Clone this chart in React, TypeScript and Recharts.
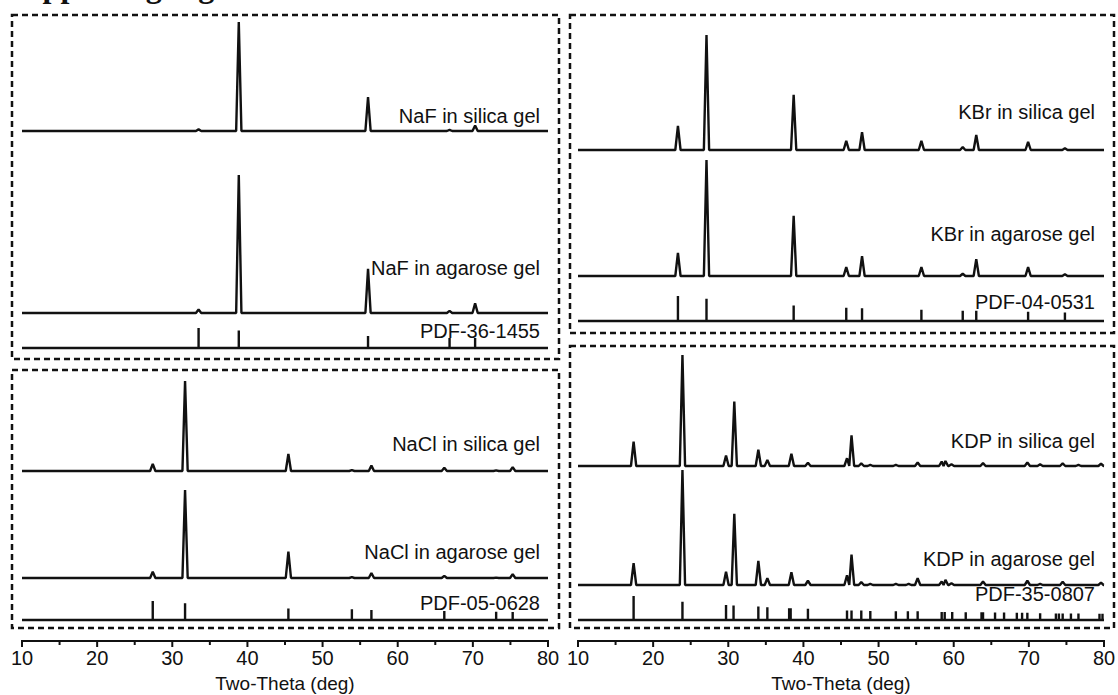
import { LineChart, Line, XAxis, YAxis } from 'recharts';

type Peak = [number, number];

// 2-theta (deg) and height (% of the strongest line)
const naFSilica: Peak[] = [[33.5, 1.5], [38.85, 100], [56.05, 31], [66.9, 1], [70.3, 5]];
const naFAgarose: Peak[] = [[33.5, 2.5], [38.85, 100], [56.05, 32], [66.9, 1.5], [70.3, 7]];
const naFRef: Peak[] = [[33.5, 100], [38.85, 87], [56.05, 60], [66.9, 50], [70.3, 50]];

const naClSilica: Peak[] = [[27.4, 8], [31.7, 100], [45.45, 19], [53.9, 1], [56.5, 6], [66.2, 3.5], [73.1, 0.7], [75.3, 4.3]];
const naClAgarose: Peak[] = [[27.4, 7], [31.7, 100], [45.45, 30], [53.9, 1], [56.5, 5.7], [66.2, 2.5], [73.1, 0.5], [75.3, 4.5]];
const naClRef: Peak[] = [[27.4, 100], [31.7, 88], [45.45, 61], [53.9, 56], [56.5, 53], [66.2, 47], [73.1, 44], [75.3, 42]];

const kBrSilica: Peak[] = [[23.3, 21], [27.1, 100], [38.7, 48], [45.7, 8], [47.8, 15.5], [55.7, 8], [61.2, 2.5], [63.0, 13], [69.9, 7], [74.8, 1.5]];
const kBrAgarose: Peak[] = [[23.3, 20], [27.1, 100], [38.7, 52], [45.7, 7.7], [47.8, 17], [55.7, 7.7], [61.2, 2], [63.0, 14.5], [69.9, 7.7], [74.8, 1.5]];
const kBrRef: Peak[] = [[23.3, 100], [27.1, 89], [38.7, 62], [45.7, 53], [47.8, 51], [55.7, 45], [61.2, 41], [63.0, 41], [69.9, 37], [74.8, 34]];

const kdpSilica: Peak[] = [
  [17.4, 22], [23.9, 100], [29.7, 9.4], [30.8, 58], [34.0, 14.6], [35.2, 5.5], [38.4, 11], [40.6, 3],
  [45.8, 7], [46.4, 27.6], [47.7, 2.3], [48.9, 1], [52.3, 1], [55.2, 3.2], [58.4, 4], [58.9, 4.5],
  [59.7, 1.5], [63.9, 2.6], [69.8, 3.2], [71.5, 1.5], [74.5, 2.3], [76.6, 1], [79.6, 2],
];
const kdpAgarose: Peak[] = [
  [17.4, 19], [23.9, 100], [29.7, 11.5], [30.8, 62], [34.0, 21], [35.2, 6], [38.4, 11], [40.6, 3.7],
  [45.8, 8.5], [46.4, 26.5], [47.7, 2.5], [48.9, 1], [52.3, 1], [54.0, 1], [55.2, 6], [58.4, 3],
  [58.9, 4.5], [59.7, 1.5], [63.9, 3], [69.8, 3.7], [71.5, 1], [74.5, 2.8], [79.6, 2],
];
const kdpRef: Peak[] = [
  [17.4, 100], [23.9, 76], [29.7, 63], [30.7, 60], [34.0, 56], [35.2, 53], [38.1, 49], [38.3, 49],
  [40.6, 47], [45.8, 40], [46.4, 40], [47.7, 40], [48.9, 37], [52.3, 36], [53.9, 36], [55.2, 36],
  [58.4, 33], [58.8, 33], [59.8, 33], [61.6, 32], [63.7, 32], [63.9, 32], [65.5, 31], [66.7, 31],
  [68.4, 30], [69.1, 30], [69.8, 30], [71.5, 28], [73.6, 27], [74.0, 27], [74.5, 27], [75.6, 27],
  [76.6, 27], [79.4, 26], [79.8, 26],
];

const xTicks = [10, 15, 20, 25, 30, 35, 40, 45, 50, 55, 60, 65, 70, 75, 80];

const FONT = '"Liberation Sans", Arial, sans-serif';
const INK = '#111';
const PAD = 3;
const PLOT_W = 526;
const LEFT_X = 22;
const RIGHT_X = 578;

// turns a peak list into a polyline: narrow triangles on a flat baseline (halfWidth 0 = sticks)
const toProfile = (peaks: Peak[], halfWidth: number) => {
  const pts: { x: number; y: number }[] = [{ x: 10, y: 0 }];
  peaks.forEach(([p, h], i) => {
    const prev = i > 0 ? peaks[i - 1][0] : -Infinity;
    const next = i < peaks.length - 1 ? peaks[i + 1][0] : Infinity;
    pts.push({ x: Math.max(p - halfWidth, (prev + p) / 2), y: 0 });
    pts.push({ x: p, y: h });
    pts.push({ x: Math.min(p + halfWidth, (p + next) / 2), y: 0 });
  });
  pts.push({ x: 80, y: 0 });
  return pts;
};

interface TraceProps {
  peaks: Peak[];
  left: number;
  top: number;
  base: number;
  sticks?: boolean;
}

const Trace = ({ peaks, left, top, base, sticks }: TraceProps) => (
  <div style={{ position: 'absolute', left: left - PAD, top: top - PAD }}>
    <LineChart
      width={PLOT_W + 2 * PAD}
      height={base - top + 2 * PAD}
      data={toProfile(peaks, sticks ? 0 : 0.35)}
      margin={{ top: PAD, right: PAD, bottom: PAD, left: PAD }}
    >
      <XAxis dataKey="x" type="number" domain={[10, 80]} hide />
      <YAxis type="number" domain={[0, 100]} hide />
      <Line
        dataKey="y"
        type="linear"
        stroke={INK}
        strokeWidth={2.4}
        strokeLinejoin="bevel"
        dot={false}
        activeDot={false}
        isAnimationActive={false}
      />
    </LineChart>
  </div>
);

const AxisTick = (props: any) => {
  const { x, y, payload } = props;
  const major = payload.value % 10 === 0;
  return (
    <g>
      <line x1={x} x2={x} y1={y - 1} y2={y + (major ? 6 : 4)} stroke={INK} strokeWidth={2} />
      {major && (
        <text x={x} y={y + 24} textAnchor="middle" fontSize={20} fontFamily={FONT} fill={INK}>
          {payload.value}
        </text>
      )}
    </g>
  );
};

const BottomAxis = ({ left }: { left: number }) => (
  <div style={{ position: 'absolute', left: left - 14, top: 631 }}>
    <LineChart
      width={PLOT_W + 28}
      height={64}
      data={[{ x: 10, y: 0 }, { x: 80, y: 0 }]}
      margin={{ top: 2, right: 14, bottom: 0, left: 14 }}
    >
      <XAxis
        dataKey="x"
        type="number"
        domain={[10, 80]}
        ticks={xTicks}
        interval={0}
        height={54}
        tickSize={0}
        tickMargin={0}
        tick={<AxisTick />}
        axisLine={{ stroke: INK, strokeWidth: 2 }}
        tickLine={false}
      />
      <YAxis type="number" domain={[0, 1]} hide />
      <Line dataKey="y" stroke="none" dot={false} activeDot={false} isAnimationActive={false} />
    </LineChart>
  </div>
);

const boxes = [
  { x: 12, y: 15, w: 547, h: 344 },
  { x: 12, y: 370, w: 547, h: 258 },
  { x: 570, y: 15, w: 544, h: 318 },
  { x: 570, y: 346, w: 544, h: 282 },
];

const labels = [
  { text: 'NaF in silica gel', x: 540, y: 123 },
  { text: 'NaF in agarose gel', x: 540, y: 275 },
  { text: 'PDF-36-1455', x: 540, y: 338 },
  { text: 'NaCl in silica gel', x: 540, y: 451 },
  { text: 'NaCl in agarose gel', x: 540, y: 559 },
  { text: 'PDF-05-0628', x: 540, y: 610 },
  { text: 'KBr in silica gel', x: 1095, y: 119 },
  { text: 'KBr in agarose gel', x: 1095, y: 241 },
  { text: 'PDF-04-0531', x: 1095, y: 309 },
  { text: 'KDP in silica gel', x: 1095, y: 448 },
  { text: 'KDP in agarose gel', x: 1095, y: 566 },
  { text: 'PDF-35-0807', x: 1095, y: 601 },
];

export default function App() {
  return (
    <div style={{ position: 'absolute', left: 0, top: 0, width: 1118, height: 695, background: '#fff', overflow: 'hidden' }}>
      <Trace peaks={naFSilica} left={LEFT_X} top={22} base={131} />
      <Trace peaks={naFAgarose} left={LEFT_X} top={175} base={313} />
      <Trace peaks={naFRef} left={LEFT_X} top={328} base={348} sticks />
      <Trace peaks={naClSilica} left={LEFT_X} top={381} base={471} />
      <Trace peaks={naClAgarose} left={LEFT_X} top={490} base={578} />
      <Trace peaks={naClRef} left={LEFT_X} top={601} base={620} sticks />

      <Trace peaks={kBrSilica} left={RIGHT_X} top={35} base={150} />
      <Trace peaks={kBrAgarose} left={RIGHT_X} top={160} base={276} />
      <Trace peaks={kBrRef} left={RIGHT_X} top={296} base={321} sticks />
      <Trace peaks={kdpSilica} left={RIGHT_X} top={355} base={466} />
      <Trace peaks={kdpAgarose} left={RIGHT_X} top={470} base={585} />
      <Trace peaks={kdpRef} left={RIGHT_X} top={596} base={620} sticks />

      <BottomAxis left={LEFT_X} />
      <BottomAxis left={RIGHT_X} />

      <svg width={1118} height={695} style={{ position: 'absolute', left: 0, top: 0, pointerEvents: 'none' }}>
        {/* page heading, cut off by the top edge as in the source figure */}
        <text x={7} y={-3} fontSize={32} fontWeight="bold" fontFamily='"Liberation Serif", "Times New Roman", serif' fill={INK}>
          Supporting Figures
        </text>
        {boxes.map((b, i) => (
          <rect key={i} x={b.x} y={b.y} width={b.w} height={b.h} fill="none" stroke={INK} strokeWidth={2.5} strokeDasharray="6 4" />
        ))}
        {labels.map((l) => (
          <text key={l.text} x={l.x} y={l.y} textAnchor="end" fontSize={20} fontFamily={FONT} fill={INK}>
            {l.text}
          </text>
        ))}
        <text x={LEFT_X + PLOT_W / 2} y={690} textAnchor="middle" fontSize={19} fontFamily={FONT} fill={INK}>
          Two-Theta (deg)
        </text>
        <text x={RIGHT_X + PLOT_W / 2} y={690} textAnchor="middle" fontSize={19} fontFamily={FONT} fill={INK}>
          Two-Theta (deg)
        </text>
      </svg>
    </div>
  );
}
